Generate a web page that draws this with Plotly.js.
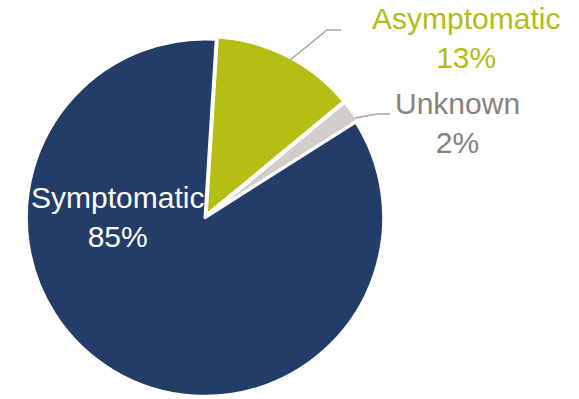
<!DOCTYPE html>
<html><head><meta charset="utf-8">
<script src="https://cdn.plot.ly/plotly-3.0.1.min.js"></script>
<style>html,body{margin:0;padding:0;background:#fff}#chart{width:579px;height:399px}</style>
</head><body><div id="chart"></div>
<script>
const categories = ["Asymptomatic", "Unknown", "Symptomatic"];
const values = [13, 2, 85];
const sliceColors = ["#B5BE12", "#D2CFCA", "#243D68"];
const labelColors = ["#B3BC12", "#8A8178", "#FFFFFF"];

const W = 579, H = 399;
const px = x => x / W, py = y => 1 - y / H;

// label positions (pixels) for each category
const labelPos = [[466, 38], [457, 123], [117, 217]];

const annotations = categories.map((c, i) => ({
  xref: 'paper', yref: 'paper',
  x: px(labelPos[i][0]), y: py(labelPos[i][1]),
  xanchor: 'center', yanchor: 'middle', showarrow: false,
  text: c + '<br>' + values[i] + '%',
  font: {family: 'Liberation Sans, Arial, sans-serif', size: 30, color: labelColors[i]}
}));

const leader = (pts) => ({
  type: 'path', xref: 'paper', yref: 'paper',
  path: 'M' + pts.map(p => px(p[0]) + ',' + py(p[1])).join(' L'),
  line: {color: '#A6A6A6', width: 1.5}
});

const cx = 205, cy = 218, r = 179, pullAmt = 0.015;
const half = r * (1 + pullAmt);

Plotly.newPlot('chart', [{
  type: 'pie',
  labels: categories,
  values: values,
  sort: false,
  direction: 'clockwise',
  rotation: 3.6,
  pull: [pullAmt, pullAmt, 0],
  textinfo: 'none',
  hoverinfo: 'none',
  marker: {colors: sliceColors, line: {color: '#FFFFFF', width: 3}},
  domain: {x: [px(cx - half), px(cx + half)], y: [py(cy + half), py(cy - half)]},
  showlegend: false
}], {
  width: W, height: H,
  margin: {l: 0, r: 0, t: 0, b: 0},
  paper_bgcolor: '#FFFFFF',
  annotations: annotations,
  shapes: [leader([[290, 60], [327, 30], [341, 30]]), leader([[355, 118], [377, 114], [390, 114]])]
}, {staticPlot: true});
</script></body></html>
